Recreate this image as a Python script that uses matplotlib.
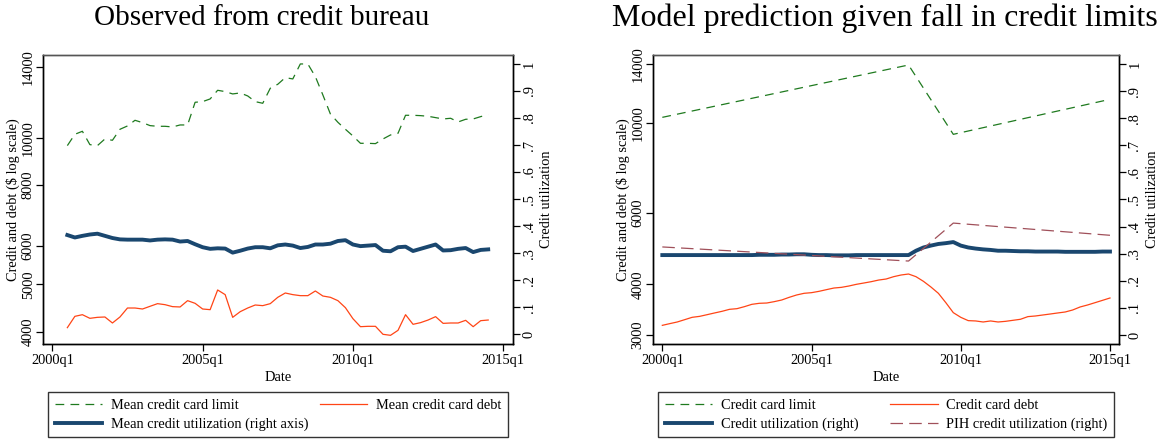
import numpy as np
import matplotlib
matplotlib.use("Agg")
import matplotlib.pyplot as plt
from matplotlib.lines import Line2D
from matplotlib.ticker import FixedLocator, FixedFormatter, NullLocator

plt.rcParams['font.family'] = ['Liberation Serif', 'DejaVu Serif']

# ---------------- data ----------------
# quarter index: 0 = 2000q1
obs_quarters = list(range(2, 59))  # 2000q3 .. 2014q3
obs_limit = [9640, 10170, 10316, 9685, 9640, 9948, 9886, 10414, 10579, 10866,
             10747, 10596, 10562, 10562, 10530, 10629, 10629, 11832, 11869, 12020,
             12522, 12444, 12308, 12366, 12191, 11869, 11776, 12642, 12883, 13295,
             13212, 14182, 14182, 13358, 12249, 11196, 10764, 10414, 10090, 9746,
             9746, 9731, 9948, 10138, 10218, 11126, 11126, 11108, 11074, 11004,
             10935, 10970, 10781, 10918, 10935, 11056, 11162]
obs_debt = [4077, 4301, 4335, 4261, 4281, 4288, 4168, 4288, 4474, 4474,
            4453, 4510, 4567, 4545, 4503, 4496, 4632, 4574, 4453, 4439,
            4872, 4766, 4281, 4397, 4474, 4538, 4524, 4567, 4706, 4803,
            4766, 4743, 4743, 4849, 4735, 4706, 4632, 4481, 4254, 4096,
            4103, 4103, 3951, 3932, 4026, 4335, 4142, 4175, 4227, 4295,
            4161, 4168, 4168, 4221, 4096, 4214, 4227]
obs_util = [0.367, 0.358, 0.364, 0.369, 0.372, 0.364, 0.356, 0.351, 0.350, 0.350,
            0.350, 0.347, 0.350, 0.351, 0.350, 0.343, 0.345, 0.333, 0.322, 0.316,
            0.318, 0.317, 0.302, 0.309, 0.317, 0.322, 0.322, 0.318, 0.329, 0.332,
            0.328, 0.319, 0.323, 0.332, 0.332, 0.335, 0.345, 0.348, 0.332, 0.326,
            0.328, 0.330, 0.309, 0.307, 0.322, 0.324, 0.308, 0.316, 0.324, 0.332,
            0.310, 0.311, 0.316, 0.319, 0.304, 0.312, 0.314]

model_quarters = list(range(0, 61))  # 2000q1 .. 2015q1
model_debt = [3169, 3200, 3230, 3273, 3317, 3335, 3367, 3400, 3432, 3471,
              3484, 3524, 3571, 3592, 3598, 3626, 3660, 3716, 3766, 3802,
              3816, 3845, 3882, 3918, 3933, 3963, 4001, 4031, 4062, 4100,
              4124, 4179, 4219, 4243, 4179, 4070, 3941, 3802, 3605, 3406,
              3317, 3255, 3249, 3230, 3249, 3230, 3242, 3261, 3280, 3330,
              3342, 3361, 3380, 3400, 3419, 3458, 3518, 3558, 3605, 3653,
              3702]
model_util = [0.295, 0.295, 0.295, 0.295, 0.295, 0.295, 0.295, 0.295, 0.295, 0.295,
              0.295, 0.295, 0.295, 0.296, 0.296, 0.296, 0.297, 0.297, 0.298, 0.298,
              0.296, 0.295, 0.295, 0.294, 0.294, 0.294, 0.295, 0.295, 0.295, 0.295,
              0.295, 0.295, 0.295, 0.295, 0.311, 0.323, 0.330, 0.336, 0.339, 0.343,
              0.330, 0.323, 0.319, 0.316, 0.314, 0.311, 0.311, 0.310, 0.309, 0.309,
              0.308, 0.308, 0.308, 0.308, 0.307, 0.307, 0.307, 0.307, 0.307, 0.308,
              0.308]
model_limit_quarters = [0, 33, 39, 60]
model_limit = [10340, 13924, 9388, 11455]
pih_quarters = [0, 33, 39, 60]
pih_util = [0.325, 0.273, 0.413, 0.368]

left_ticks_obs = [4000, 5000, 6000, 8000, 10000, 14000]
left_ticks_model = [3000, 4000, 6000, 10000, 14000]
util_ticks = [0, .1, .2, .3, .4, .5, .6, .7, .8, .9, 1]
util_labels = ["0", ".1", ".2", ".3", ".4", ".5", ".6", ".7", ".8", ".9", "1"]
date_ticks = [0, 20, 40, 60]
date_labels = ["2000q1", "2005q1", "2010q1", "2015q1"]

# ---------------- style ----------------
GREEN = "#1f7a1f"
ORANGE = "#ff4516"
NAVY = "#1a476f"
PIH = "#a0505a"
FS = 10.4
GDASH = (7, 5)
PDASH = (10, 5)

W, H = 1162, 440
fig = plt.figure(figsize=(W / 100, H / 100), dpi=100)


def fx(px):
    return px / W


def fy(py):
    return 1 - py / H


def setup(ax, ax2, ylim, yticks, xlim, ylim2):
    ax.set_yscale('log')
    ax.set_ylim(*ylim)
    ax.yaxis.set_major_locator(FixedLocator(yticks))
    ax.yaxis.set_major_formatter(FixedFormatter([str(v) for v in yticks]))
    ax.yaxis.set_minor_locator(NullLocator())
    ax.set_xlim(*xlim)
    ax.set_xticks(date_ticks)
    ax.set_xticklabels(date_labels)
    ax.tick_params(axis='x', direction='out', length=5, width=0.9,
                   labelsize=FS, pad=2)
    ax.tick_params(axis='y', direction='out', length=5, width=0.9,
                   labelsize=FS, pad=1)
    for lab in ax.get_yticklabels():
        lab.set_rotation(90)
        lab.set_va('center')
    ax.set_ylabel("Credit and debt (\\$ log scale)", fontsize=FS, labelpad=1)
    ax.set_xlabel("Date", fontsize=FS, labelpad=3)
    ax2.set_ylim(*ylim2)
    ax2.set_yticks(util_ticks)
    ax2.set_yticklabels(util_labels)
    ax2.tick_params(axis='y', direction='out', length=5, width=0.9,
                    labelsize=FS, pad=2)
    for lab in ax2.get_yticklabels():
        lab.set_rotation(90)
        lab.set_va('center')
    ax2.set_ylabel("Credit utilization", fontsize=FS, labelpad=3)
    for a in (ax, ax2):
        for s in a.spines.values():
            s.set_linewidth(1.0)
            s.set_color("black")
        a.spines['top'].set_color("#555555")


# ---------- left panel ----------
axL = fig.add_axes([fx(43), fy(344), fx(513) - fx(43), fy(55) - fy(344)])
axL2 = axL.twinx()
axL.plot(obs_quarters, obs_limit, color=GREEN, lw=0.9, dashes=GDASH)
axL.plot(obs_quarters, obs_debt, color=ORANGE, lw=0.9)
axL2.plot(obs_quarters, obs_util, color=NAVY, lw=2.8)
setup(axL, axL2, (3774, 14795), left_ticks_obs, (-1.24, 61.3), (-0.036, 1.033))
fig.text(fx(262), fy(18), "Observed from credit bureau", fontsize=21,
         ha='center', va='center')

# ---------- right panel ----------
axR = fig.add_axes([fx(653), fy(344), fx(1118.7) - fx(653), fy(55) - fy(344)])
axR2 = axR.twinx()
axR.plot(model_limit_quarters, model_limit, color=GREEN, lw=0.9, dashes=GDASH)
axR.plot(model_quarters, model_debt, color=ORANGE, lw=0.9)
axR2.plot(model_quarters, model_util, color=NAVY, lw=2.8)
axR2.plot(pih_quarters, pih_util, color=PIH, lw=0.9, dashes=PDASH)
setup(axR, axR2, (2850, 14739), left_ticks_model, (-1.25, 61.17), (-0.033, 1.033))
fig.text(fx(885), fy(18), "Model prediction given fall in credit limits",
         fontsize=23, ha='center', va='center')

# ---------- legends ----------
h_limit = Line2D([], [], color=GREEN, lw=0.9, dashes=GDASH)
h_debt = Line2D([], [], color=ORANGE, lw=0.9)
h_util = Line2D([], [], color=NAVY, lw=2.8)
h_pih = Line2D([], [], color=PIH, lw=0.9, dashes=PDASH)

legkw = dict(loc='upper left', mode='expand', ncol=2, fontsize=FS,
             frameon=True, fancybox=False, edgecolor='black',
             handlelength=3.3, handletextpad=0.6, labelspacing=0.4,
             borderpad=0.45, borderaxespad=0)
legL = fig.legend([h_limit, h_util, h_debt],
                  ["Mean credit card limit", "Mean credit utilization (right axis)",
                   "Mean credit card debt"],
                  bbox_to_anchor=(fx(48), fy(439), fx(508) - fx(48), fy(392) - fy(439)),
                  **legkw)
legR = fig.legend([h_limit, h_util, h_debt, h_pih],
                  ["Credit card limit", "Credit utilization (right)",
                   "Credit card debt", "PIH credit utilization (right)"],
                  bbox_to_anchor=(fx(658), fy(439), fx(1114) - fx(658), fy(392) - fy(439)),
                  **legkw)
for lg in (legL, legR):
    lg.get_frame().set_linewidth(1.0)

fig.savefig("out.png", dpi=100)
